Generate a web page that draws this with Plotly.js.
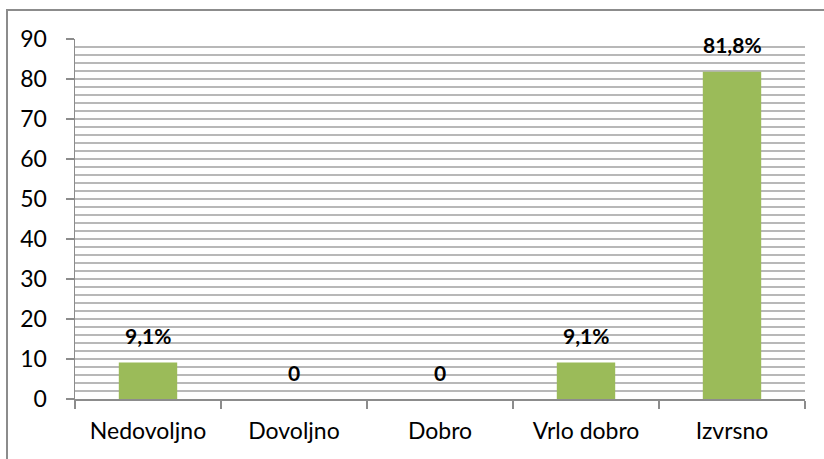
<!DOCTYPE html>
<html>
<head>
<meta charset="utf-8">
<script src="https://cdn.plot.ly/plotly-3.0.1.min.js"></script>
<style>
html,body{margin:0;padding:0;background:#fff;}
#wrap{position:relative;width:824px;height:459px;overflow:hidden;}
#frame{position:absolute;left:6px;top:9px;width:900px;height:600px;border-left:2px solid #8c8c8c;border-top:2px solid #8c8c8c;box-sizing:border-box;}
#chart{position:absolute;left:0;top:0;width:824px;height:459px;}
</style>
</head>
<body>
<div id="wrap"><div id="frame"></div><div id="chart"></div></div>
<script>
const categories = ["Nedovoljno", "Dovoljno", "Dobro", "Vrlo dobro", "Izvrsno"];
const values = [9.1, 0, 0, 9.1, 81.8];
const labels = ["9,1%", "0", "0", "9,1%", "81,8%"];
const yTickVals = [0, 10, 20, 30, 40, 50, 60, 70, 80, 90];

const font = "Lato, 'Open Sans', sans-serif";

const trace = {
  type: "bar",
  x: categories,
  y: values,
  marker: {color: "#9BBB59"},
  hoverinfo: "none"
};

const annotations = categories.map((c, i) => ({
  x: c, y: values[i], xref: "x", yref: "y",
  text: "<b>" + labels[i] + "</b>",
  showarrow: false, yshift: 27,
  font: {family: font, size: 21, color: "#000"}
}));

const layout = {
  width: 824, height: 459,
  margin: {l: 75, r: 19, t: 39, b: 60},
  paper_bgcolor: "rgba(0,0,0,0)",
  plot_bgcolor: "rgba(0,0,0,0)",
  showlegend: false,
  bargap: 0.6,
  xaxis: {
    type: "category",
    showline: true, linecolor: "#8c8c8c", linewidth: 1.5,
    ticks: "outside", ticklen: 8, tickcolor: "#8c8c8c", tickwidth: 1.5,
    tickson: "boundaries",
    showgrid: false,
    tickfont: {family: font, size: 23, color: "#000"},
    ticklabelstandoff: 11
  },
  yaxis: {
    range: [0, 90],
    tickvals: yTickVals,
    showline: true, linecolor: "#8c8c8c", linewidth: 1.5,
    ticks: "outside", ticklen: 8, tickcolor: "#8c8c8c", tickwidth: 1.5,
    showgrid: true, gridcolor: "#b8b8b8", gridwidth: 1.5,
    minor: {dtick: 2, showgrid: true, gridcolor: "#b8b8b8", gridwidth: 1.5},
    zeroline: false,
    tickfont: {family: font, size: 23, color: "#000"},
    ticklabelstandoff: 14
  },
  annotations: annotations
};

Plotly.newPlot("chart", [trace], layout, {displayModeBar: false, staticPlot: true});
</script>
</body>
</html>
